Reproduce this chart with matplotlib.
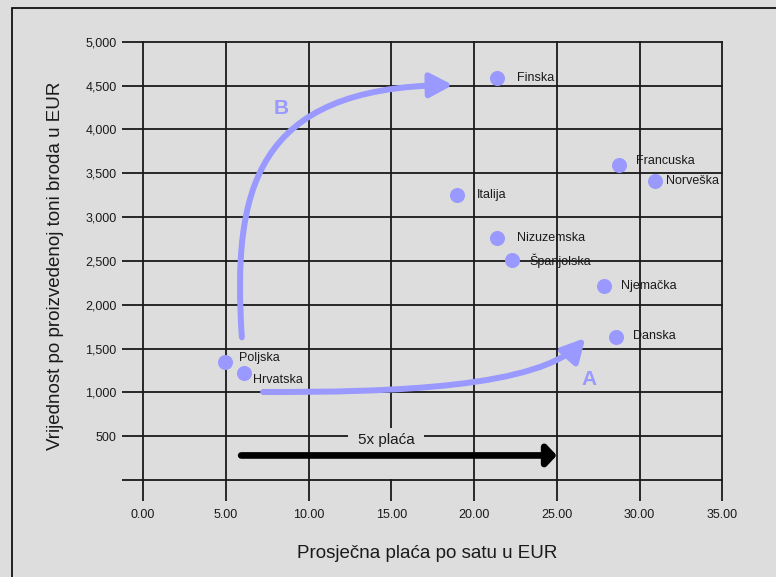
import matplotlib.pyplot as plt
from matplotlib.path import Path
from matplotlib.patches import FancyArrowPatch, Rectangle

plt.rcParams['font.family'] = ['Liberation Sans', 'DejaVu Sans']

# ================================
# DATA
# ================================
countries = ['Finska', 'Francuska', 'Norveška', 'Italija', 'Nizuzemska',
             'Španjolska', 'Njemačka', 'Danska', 'Poljska', 'Hrvatska']
wage = [21.4, 28.75, 30.95, 18.95, 21.4, 22.3, 27.85, 28.55, 4.95, 6.1]
value = [4590, 3590, 3410, 3250, 2755, 2505, 2215, 1630, 1345, 1220]
# label offsets (points)
label_dx = [14, 12.5, 8, 14.5, 14, 12.5, 12.5, 12.5, 10, 6.5]
label_dy = [0, 3, 0, 0, 0, 0, 0, 1, 3, -5]

xticks = [0, 5, 10, 15, 20, 25, 30, 35]
yticks = [0, 500, 1000, 1500, 2000, 2500, 3000, 3500, 4000, 4500, 5000]
ytick_labels = ['', '500', '1,000', '1,500', '2,000', '2,500', '3,000',
                '3,500', '4,000', '4,500', '5,000']

# curved arrows (bezier control points, data coords)
curve_a = [(7.26, 1004), (15.0, 1000), (24.0, 1050), (26.72, 1620)]
curve_b = [(5.97, 1628), (5.4, 3300), (6.7, 4480), (18.72, 4506)]

bg = '#dddddd'
blue = '#9999ff'
ink = '#1a1a1a'

fig = plt.figure(figsize=(7.76, 5.77), dpi=100, facecolor=bg)
fig.patches.append(Rectangle((12 / 776, -0.1), 1.2, 1.1 - 8 / 577, fill=False,
                             edgecolor='black', linewidth=1.2,
                             transform=fig.transFigure, figure=fig))

ax = fig.add_axes([143 / 776, 1 - 480 / 577, (722.3 - 143) / 776, (480 - 41.7) / 577])
ax.set_facecolor(bg)
ax.set_xlim(0, 35)
ax.set_ylim(0, 5000)
for s in ax.spines.values():
    s.set_visible(False)

ax.set_xticks(xticks)
ax.set_xticklabels(['%.2f' % t for t in xticks])
ax.set_yticks(yticks)
ax.set_yticklabels(ytick_labels)
ax.tick_params(axis='both', length=15, width=1.3, color=ink, labelsize=9,
               labelcolor=ink)
ax.tick_params(axis='y', pad=4)
ax.tick_params(axis='x', pad=6)
ax.grid(True, color=ink, linewidth=1.3)
ax.set_axisbelow(True)
for gl in ax.get_xgridlines() + ax.get_ygridlines():
    gl.set_clip_on(False)

# ================================
# POINTS + LABELS
# ================================
ax.scatter(wage, value, s=117, color=blue, zorder=3, linewidths=0)
for name, x, y, dx, dy in zip(countries, wage, value, label_dx, label_dy):
    ax.annotate(name, (x, y), xytext=(dx, dy), textcoords='offset points',
                ha='left', va='center', fontsize=9, color=ink, zorder=4)

# ================================
# ARROWS
# ================================
codes = [Path.MOVETO, Path.CURVE4, Path.CURVE4, Path.CURVE4]
for pts in [curve_a, curve_b]:
    arr = FancyArrowPatch(path=Path(pts, codes),
                          arrowstyle='-|>,head_length=0.68,head_width=0.36',
                          mutation_scale=20, color=blue, linewidth=4.3,
                          capstyle='round', zorder=2)
    ax.add_patch(arr)

ax.text(8.33, 4240, 'B', color=blue, fontsize=15, fontweight='bold',
        ha='center', va='center')
ax.text(26.96, 1141, 'A', color=blue, fontsize=15, fontweight='bold',
        ha='center', va='center')

# "5x plaća" box (hides the grid behind the label)
ax.add_patch(Rectangle((12.4, 15), 4.55, 580, facecolor=bg, edgecolor='none',
                       zorder=1.5))
ax.annotate('', xy=(25, 280), xytext=(5.93, 280),
            arrowprops=dict(arrowstyle='-|>,head_length=0.29,head_width=0.31',
                            mutation_scale=20, color='black', lw=4.8,
                            shrinkA=0, shrinkB=0), zorder=3)
ax.text(14.73, 462, '5x plaća', fontsize=11, color=ink, ha='center', va='center',
        zorder=3)

fig.text(56 / 776, 1 - 266 / 577, 'Vrijednost po proizvedenoj toni broda u EUR',
         rotation=90, ha='center', va='center', fontsize=13.5, color=ink)
fig.text(426.7 / 776, 1 - 553 / 577, 'Prosječna plaća po satu u EUR',
         ha='center', va='center', fontsize=13.5, color=ink)

plt.savefig('out.png', dpi=100, facecolor=bg)
